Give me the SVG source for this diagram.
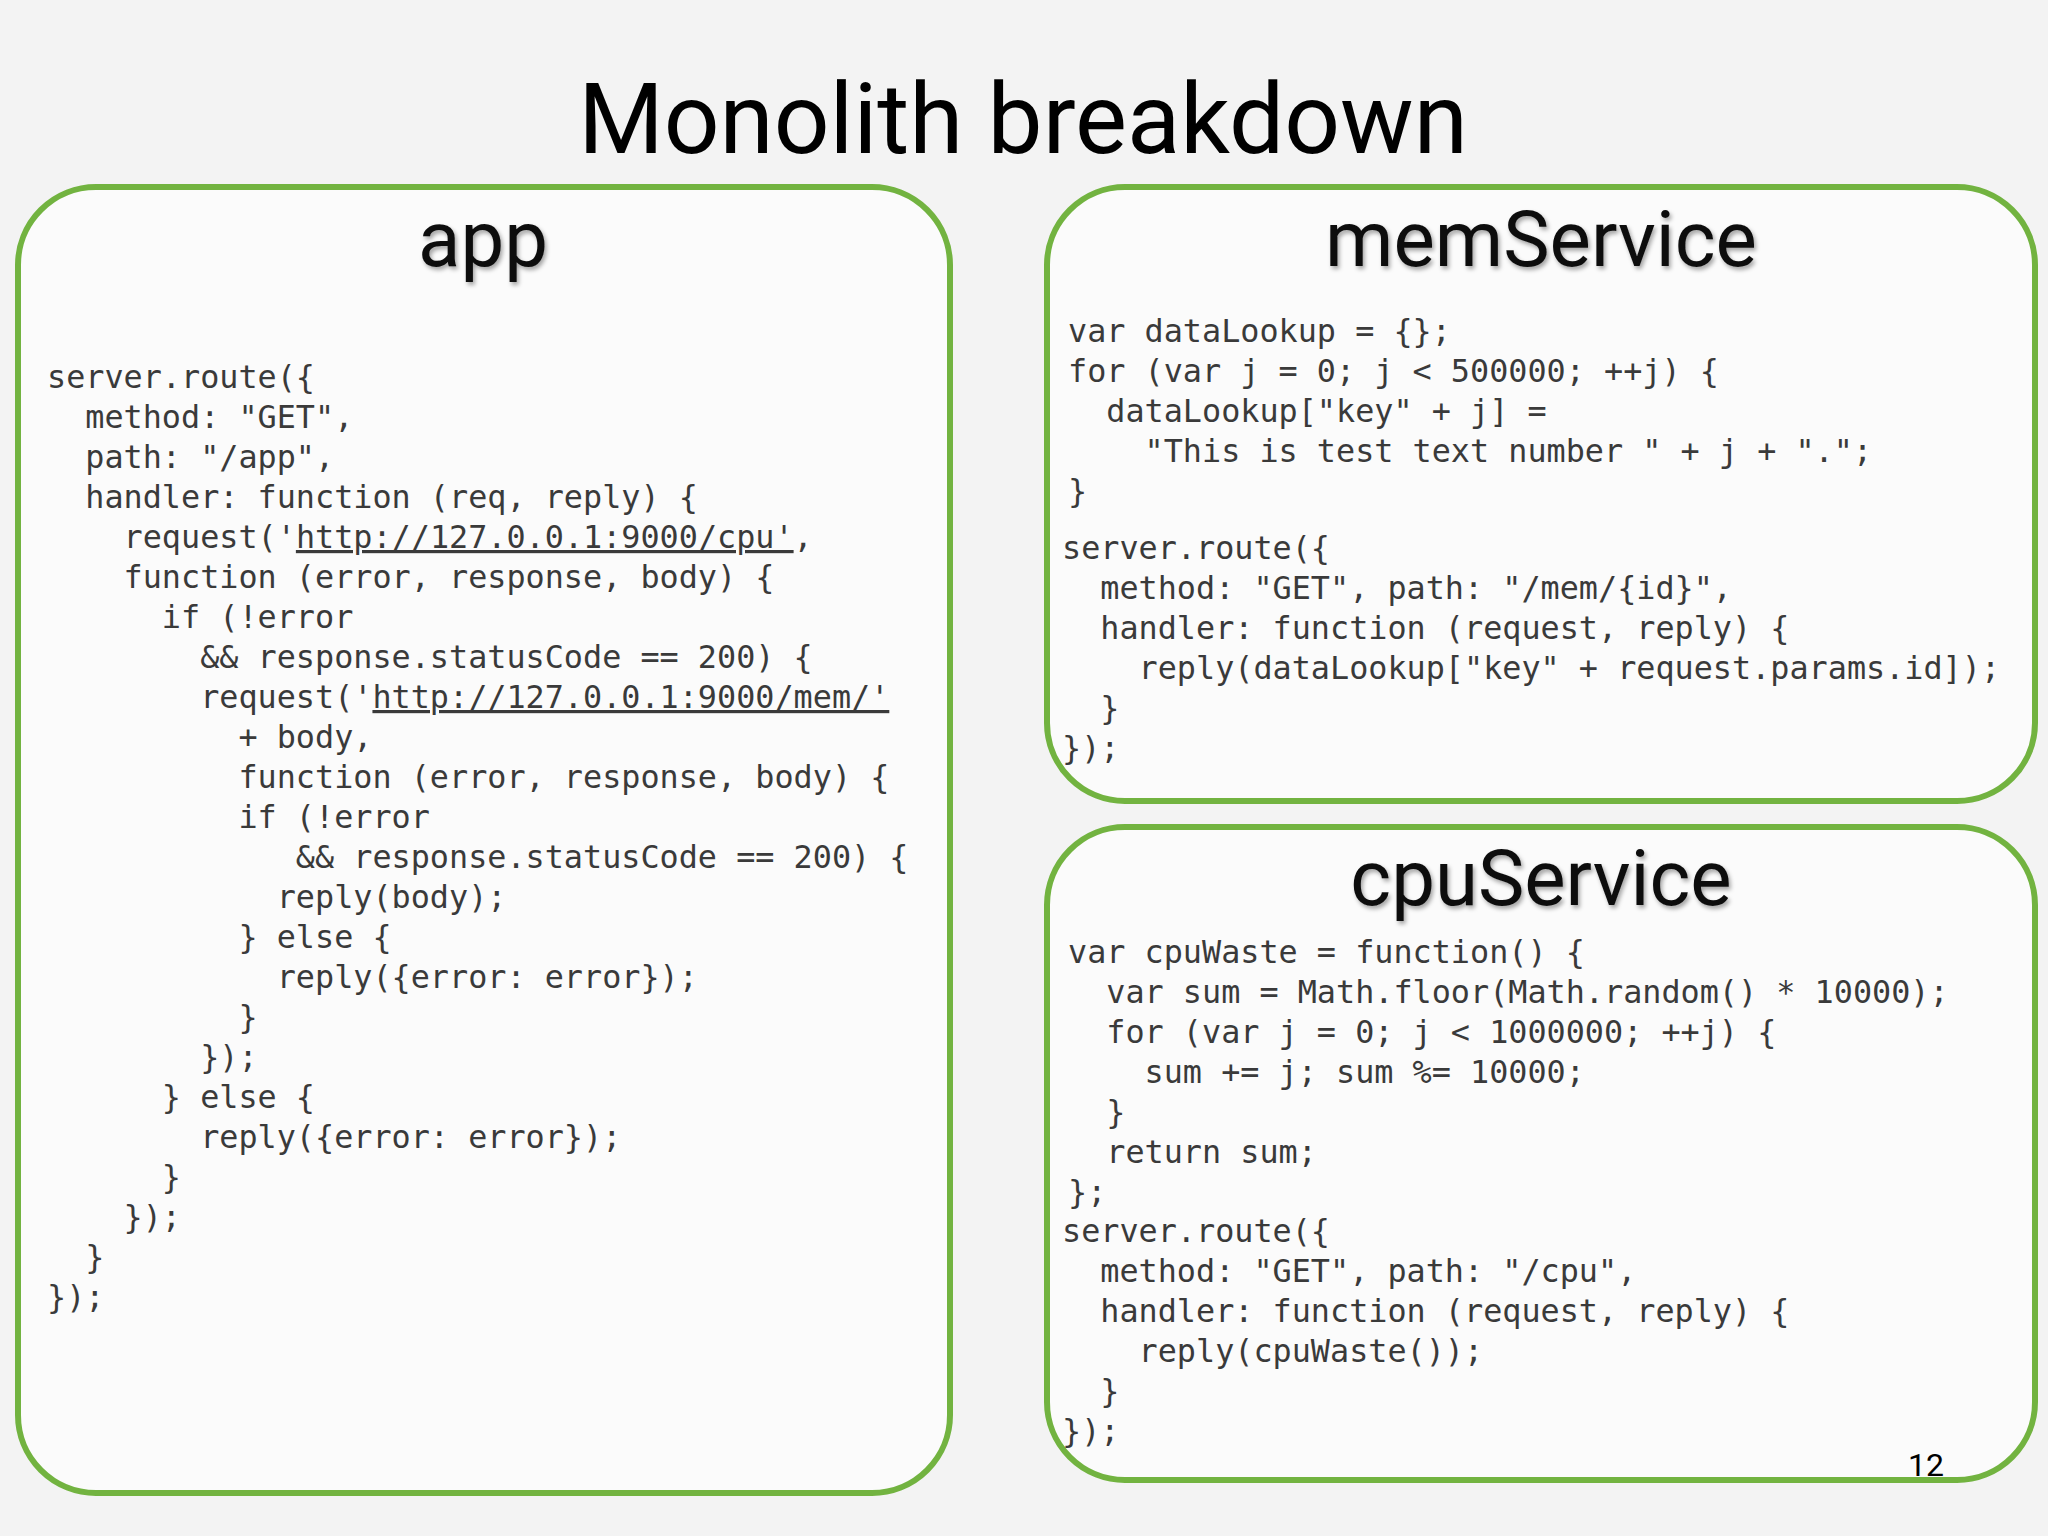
<svg xmlns="http://www.w3.org/2000/svg" width="2048" height="1536" viewBox="0 0 2048 1536">
<defs>
<filter id="sh" x="-10%" y="-10%" width="130%" height="140%"><feDropShadow dx="2" dy="3" stdDeviation="2" flood-color="#000" flood-opacity="0.35"/></filter>
</defs>
<style>
.box{fill:#fbfbfb;stroke:#72b340;stroke-width:6}
.ttl{font-family:Roboto,"Liberation Sans",sans-serif;font-size:78px;fill:#111;text-anchor:middle;filter:url(#sh)}
.code{font-family:"DejaVu Sans Mono","Liberation Mono",monospace;font-size:31.8px;fill:#3a3a3a;white-space:pre}
.u{text-decoration:underline}
</style>
<rect width="2048" height="1536" fill="#f3f3f3"/>
<text x="1023" y="153" font-family="Roboto,'Liberation Sans',sans-serif" font-size="98" text-anchor="middle" fill="#000">Monolith breakdown</text>
<g id="app">
<rect class="box" x="18" y="187" width="932" height="1306" rx="78"/>
<text class="ttl" x="483" y="266">app</text>
<text class="code" xml:space="preserve"><tspan x="47" y="388">server.route({</tspan><tspan x="47" y="428">  method: "GET",</tspan><tspan x="47" y="468">  path: "/app",</tspan><tspan x="47" y="508">  handler: function (req, reply) {</tspan><tspan x="47" y="548">    request('<tspan class="u">http://127.0.0.1:9000/cpu'</tspan>,</tspan><tspan x="47" y="588">    function (error, response, body) {</tspan><tspan x="47" y="628">      if (!error</tspan><tspan x="47" y="668">        &amp;&amp; response.statusCode == 200) {</tspan><tspan x="47" y="708">        request('<tspan class="u">http://127.0.0.1:9000/mem/'</tspan></tspan><tspan x="47" y="748">          + body,</tspan><tspan x="47" y="788">          function (error, response, body) {</tspan><tspan x="47" y="828">          if (!error</tspan><tspan x="47" y="868">             &amp;&amp; response.statusCode == 200) {</tspan><tspan x="47" y="908">            reply(body);</tspan><tspan x="47" y="948">          } else {</tspan><tspan x="47" y="988">            reply({error: error});</tspan><tspan x="47" y="1028">          }</tspan><tspan x="47" y="1068">        });</tspan><tspan x="47" y="1108">      } else {</tspan><tspan x="47" y="1148">        reply({error: error});</tspan><tspan x="47" y="1188">      }</tspan><tspan x="47" y="1228">    });</tspan><tspan x="47" y="1268">  }</tspan><tspan x="47" y="1308">});</tspan></text>
</g>
<g id="memService">
<rect class="box" x="1047" y="187" width="988" height="614" rx="78"/>
<text class="ttl" x="1541" y="266">memService</text>
<text class="code" xml:space="preserve"><tspan x="1068" y="342">var dataLookup = {};</tspan><tspan x="1068" y="382">for (var j = 0; j &lt; 500000; ++j) {</tspan><tspan x="1068" y="422">  dataLookup["key" + j] =</tspan><tspan x="1068" y="462">    "This is test text number " + j + ".";</tspan><tspan x="1068" y="502">}</tspan><tspan x="1062" y="559">server.route({</tspan><tspan x="1062" y="599">  method: "GET", path: "/mem/{id}",</tspan><tspan x="1062" y="639">  handler: function (request, reply) {</tspan><tspan x="1062" y="679">    reply(dataLookup["key" + request.params.id]);</tspan><tspan x="1062" y="719">  }</tspan><tspan x="1062" y="759">});</tspan></text>
</g>
<g id="cpuService">
<rect class="box" x="1047" y="827" width="988" height="653" rx="78"/>
<text class="ttl" x="1541" y="905">cpuService</text>
<text class="code" xml:space="preserve"><tspan x="1068" y="963">var cpuWaste = function() {</tspan><tspan x="1068" y="1003">  var sum = Math.floor(Math.random() * 10000);</tspan><tspan x="1068" y="1043">  for (var j = 0; j &lt; 1000000; ++j) {</tspan><tspan x="1068" y="1083">    sum += j; sum %= 10000;</tspan><tspan x="1068" y="1123">  }</tspan><tspan x="1068" y="1163">  return sum;</tspan><tspan x="1068" y="1203">};</tspan><tspan x="1062" y="1242">server.route({</tspan><tspan x="1062" y="1282">  method: "GET", path: "/cpu",</tspan><tspan x="1062" y="1322">  handler: function (request, reply) {</tspan><tspan x="1062" y="1362">    reply(cpuWaste());</tspan><tspan x="1062" y="1402">  }</tspan><tspan x="1062" y="1442">});</tspan></text>
</g>
<text x="1926" y="1476" font-family="Roboto,'Liberation Sans',sans-serif" font-size="32" text-anchor="middle" fill="#000">12</text>
</svg>
